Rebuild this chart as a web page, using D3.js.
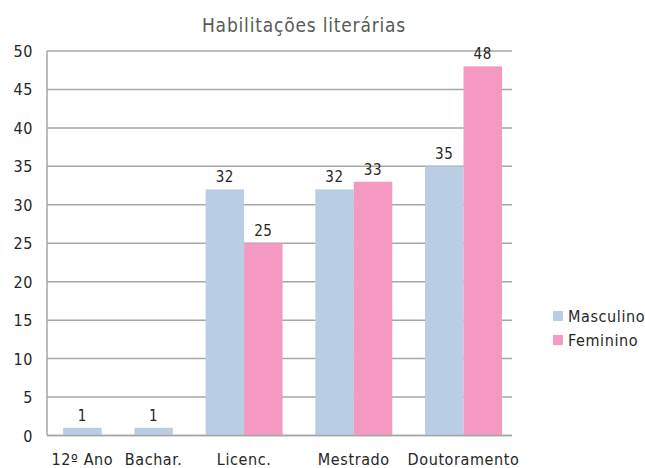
<!DOCTYPE html>
<html>
<head>
<meta charset="utf-8">
<script src="https://cdn.jsdelivr.net/npm/d3@7"></script>
<style>
  body { margin: 0; background: #fff; }
  text { font-family: "DejaVu Sans Condensed", "Liberation Sans Narrow", sans-serif; letter-spacing: 0.6px; }
</style>
</head>
<body>
<div id="chart"></div>
<script>
var width = 645,
    height = 468;

// data
var categories = ["12º Ano", "Bachar.", "Licenc.", "Mestrado", "Doutoramento"];
var series = ["Masculino", "Feminino"];
var masculino = [1, 1, 32, 32, 35];
var feminino = [null, null, 25, 33, 48];
var yTicks = [0, 5, 10, 15, 20, 25, 30, 35, 40, 45, 50];

var colors = { "Masculino": "#b9cde5", "Feminino": "#f49ac2" };

var margin = { left: 47, right: 133, top: 51, bottom: 32.5 };
var plotW = width - margin.left - margin.right,
    plotH = height - margin.top - margin.bottom;

var svg = d3.select("#chart").append("svg")
  .attr("width", width)
  .attr("height", height);

// build groups: only non empty values take a slot
var groups = categories.map(function(c, i) {
  var bars = [];
  if (masculino[i] != null) bars.push({ s: "Masculino", v: masculino[i] });
  if (feminino[i] != null) bars.push({ s: "Feminino", v: feminino[i] });
  return { cat: c, bars: bars };
});

// layout in bar units
var padLeft = 0.42, padRight = 0.26, gap = 0.85;
var u = padLeft;
groups.forEach(function(g, i) {
  if (i > 0) u += gap;
  g.start = u;
  u += g.bars.length;
  g.end = u;
});
var totalUnits = u + padRight;

var x = d3.scaleLinear().domain([0, totalUnits]).range([margin.left, margin.left + plotW]);
var y = d3.scaleLinear().domain([0, 50]).range([margin.top + plotH, margin.top]);

// gridlines
svg.append("g").selectAll("line")
  .data(yTicks).enter()
  .append("line")
  .attr("x1", margin.left)
  .attr("x2", margin.left + plotW)
  .attr("y1", function(d) { return y(d); })
  .attr("y2", function(d) { return y(d); })
  .attr("stroke", "#a6a6a6")
  .attr("stroke-width", 1.5);

// left axis line
svg.append("line")
  .attr("x1", margin.left).attr("x2", margin.left)
  .attr("y1", y(50)).attr("y2", y(0))
  .attr("stroke", "#a6a6a6")
  .attr("stroke-width", 1.5);

// y labels
svg.append("g").selectAll("text")
  .data(yTicks).enter()
  .append("text")
  .attr("x", 33)
  .attr("y", function(d) { return y(d) + 6; })
  .attr("text-anchor", "end")
  .attr("font-size", "16px")
  .attr("fill", "#262626")
  .text(function(d) { return d; });

// bars
var bar = svg.append("g").selectAll("g")
  .data(groups).enter()
  .append("g");

bar.selectAll("rect")
  .data(function(g) {
    return g.bars.map(function(b, j) { return { s: b.s, v: b.v, u: g.start + j }; });
  }).enter()
  .append("rect")
  .attr("x", function(d) { return x(d.u); })
  .attr("width", function(d) { return x(d.u + 1) - x(d.u); })
  .attr("y", function(d) { return y(d.v); })
  .attr("height", function(d) { return y(0) - y(d.v); })
  .attr("fill", function(d) { return colors[d.s]; });

// value labels
bar.selectAll("text")
  .data(function(g) {
    return g.bars.map(function(b, j) { return { s: b.s, v: b.v, u: g.start + j }; });
  }).enter()
  .append("text")
  .attr("x", function(d) { return x(d.u + 0.5); })
  .attr("y", function(d) { return y(d.v) - 7; })
  .attr("text-anchor", "middle")
  .attr("font-size", "15px")
  .attr("fill", "#262626")
  .text(function(d) { return d.v; });

// bottom axis line (drawn over bars)
svg.append("line")
  .attr("x1", margin.left).attr("x2", margin.left + plotW)
  .attr("y1", y(0)).attr("y2", y(0))
  .attr("stroke", "#a6a6a6")
  .attr("stroke-width", 1.5);

// category labels
svg.append("g").selectAll("text")
  .data(groups).enter()
  .append("text")
  .attr("x", function(g) { return x((g.start + g.end) / 2); })
  .attr("y", 465)
  .attr("text-anchor", "middle")
  .attr("font-size", "16px")
  .attr("fill", "#262626")
  .text(function(g) { return g.cat; });

// title
svg.append("text")
  .attr("x", 304)
  .attr("y", 32)
  .attr("text-anchor", "middle")
  .attr("font-size", "19px")
  .style("letter-spacing", "0.8px")
  .attr("fill", "#595959")
  .text("Habilitações literárias");

// legend
var legend = svg.append("g").selectAll("g")
  .data(series).enter()
  .append("g")
  .attr("transform", function(d, i) { return "translate(553," + (311 + i * 24) + ")"; });

legend.append("rect")
  .attr("width", 10).attr("height", 10)
  .attr("fill", function(d) { return colors[d]; });

legend.append("text")
  .attr("x", 15)
  .attr("y", 11)
  .attr("font-size", "16px")
  .attr("fill", "#262626")
  .text(function(d) { return d; });
</script>
</body>
</html>
